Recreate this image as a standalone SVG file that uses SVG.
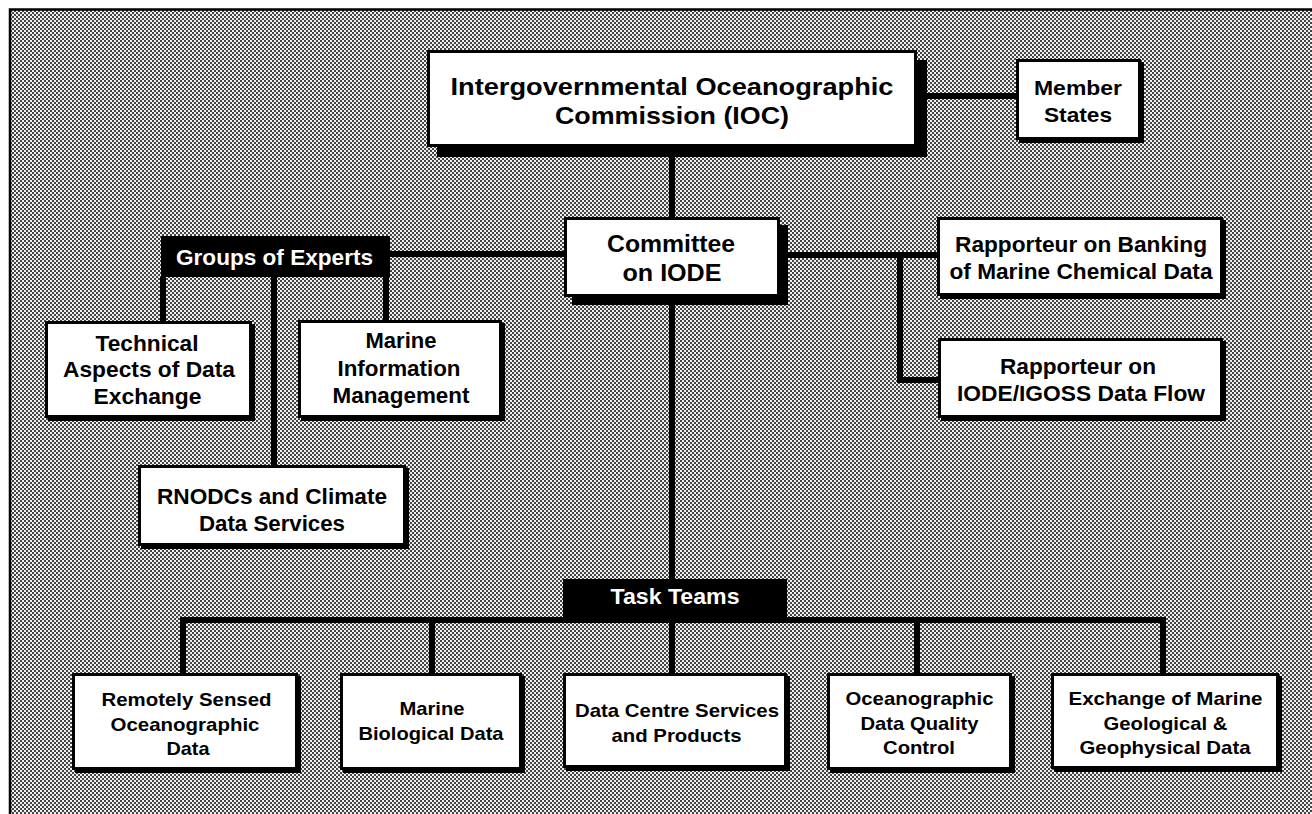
<svg xmlns="http://www.w3.org/2000/svg" width="1312" height="814" viewBox="0 0 1312 814">
  <defs>
    <!-- halftone screen used for the panel background -->
    <pattern id="screen" x="0" y="0" width="4" height="4" patternUnits="userSpaceOnUse">
      <rect width="4" height="4" fill="#efefef"/>
      <rect x="0" y="0" width="2" height="2" fill="#454545"/>
      <rect x="2" y="2" width="2" height="2" fill="#454545"/>
    </pattern>
  </defs>
  <style>
    .box { fill: #fff; stroke: #000; stroke-width: 3; }
    .shadow { fill: #000; }
    .bar { fill: #000; }
    .wire { fill: none; stroke: #000; stroke-width: 6; stroke-linejoin: miter; }
    .t { font-family: "Liberation Sans", Arial, Helvetica, sans-serif; font-weight: bold; fill: #000; text-anchor: middle; }
    .w { fill: #fff; }
    .big { font-size: 24px; }
    .mid { font-size: 22px; }
    .sm { font-size: 19px; }
  </style>

  <!-- page and framed panel -->
  <rect x="0" y="0" width="1312" height="814" fill="#fff"/>
  <rect x="10" y="9.5" width="1310" height="820" fill="url(#screen)" stroke="#000" stroke-width="2.5"/>

  <!-- connectors -->
  <g id="connectors">
    <path class="wire" d="M917 96 H1016"/>
    <path class="wire" d="M672 147 V217"/>
    <path class="wire" d="M390 254 H564" stroke-width="5"/>
    <path class="wire" d="M163 277 V321"/>
    <path class="wire" d="M274 277 V465"/>
    <path class="wire" d="M386 277 V320"/>
    <path class="wire" d="M780 255 H937" stroke-width="5"/>
    <path class="wire" d="M900 255 V380 H938"/>
    <path class="wire" d="M672 297 V579"/>
    <path class="wire" d="M183 673 V620 H1163 V673"/>
    <path class="wire" d="M432 620 V673"/>
    <path class="wire" d="M672 617 V673"/>
    <path class="wire" d="M917 620 V673"/>
  </g>

  <g id="ioc">
    <rect class="shadow" x="437" y="60" width="490" height="97"/>
    <rect class="box" x="428.5" y="51.5" width="487" height="94"/>
    <text class="t big" x="672" y="95" textLength="443" lengthAdjust="spacingAndGlyphs">Intergovernmental Oceanographic</text>
    <text class="t big" x="672" y="123.5" textLength="234" lengthAdjust="spacingAndGlyphs">Commission (IOC)</text>
  </g>

  <g id="member-states">
    <rect class="shadow" x="1019" y="62" width="125" height="81"/>
    <rect class="box" x="1017.5" y="60.5" width="122" height="78"/>
    <text class="t" font-size="21" x="1078" y="95" textLength="88" lengthAdjust="spacingAndGlyphs">Member</text>
    <text class="t" font-size="21" x="1078" y="122" textLength="68" lengthAdjust="spacingAndGlyphs">States</text>
  </g>

  <g id="committee">
    <rect class="shadow" x="572" y="225" width="216" height="80"/>
    <rect class="box" x="565.5" y="218.5" width="213" height="77"/>
    <text class="t" font-size="23" x="671" y="252" textLength="128" lengthAdjust="spacingAndGlyphs">Committee</text>
    <text class="t" font-size="23" x="672" y="281" textLength="99" lengthAdjust="spacingAndGlyphs">on IODE</text>
  </g>

  <g id="groups-of-experts">
    <rect class="bar" x="161" y="236" width="229" height="41"/>
    <text class="t w mid" x="274.5" y="265" textLength="197" lengthAdjust="spacingAndGlyphs">Groups of Experts</text>
  </g>

  <g id="technical-aspects">
    <rect class="shadow" x="48" y="324" width="207" height="97"/>
    <rect class="box" x="46.5" y="322.5" width="204" height="94"/>
    <text class="t mid" x="147" y="351" textLength="103" lengthAdjust="spacingAndGlyphs">Technical</text>
    <text class="t mid" x="149" y="377" textLength="172" lengthAdjust="spacingAndGlyphs">Aspects of Data</text>
    <text class="t mid" x="147.5" y="404" textLength="108" lengthAdjust="spacingAndGlyphs">Exchange</text>
  </g>

  <g id="marine-information">
    <rect class="shadow" x="301" y="323" width="204" height="98"/>
    <rect class="box" x="299.5" y="321.5" width="201" height="95"/>
    <text class="t mid" x="401" y="348" textLength="71" lengthAdjust="spacingAndGlyphs">Marine</text>
    <text class="t mid" x="399" y="376" textLength="123" lengthAdjust="spacingAndGlyphs">Information</text>
    <text class="t mid" x="401" y="403" textLength="137" lengthAdjust="spacingAndGlyphs">Management</text>
  </g>

  <g id="rnodcs">
    <rect class="shadow" x="141" y="468" width="268" height="81"/>
    <rect class="box" x="139.5" y="466.5" width="265" height="78"/>
    <text class="t mid" x="272" y="504" textLength="230" lengthAdjust="spacingAndGlyphs">RNODCs and Climate</text>
    <text class="t mid" x="272" y="531" textLength="146" lengthAdjust="spacingAndGlyphs">Data Services</text>
  </g>

  <g id="rapporteur-chemical">
    <rect class="shadow" x="940" y="220" width="286" height="79"/>
    <rect class="box" x="938.5" y="218.5" width="283" height="76"/>
    <text class="t mid" x="1081" y="252" textLength="252" lengthAdjust="spacingAndGlyphs">Rapporteur on Banking</text>
    <text class="t mid" x="1081" y="278.5" textLength="263" lengthAdjust="spacingAndGlyphs">of Marine Chemical Data</text>
  </g>

  <g id="rapporteur-igoss">
    <rect class="shadow" x="941" y="341" width="285" height="80"/>
    <rect class="box" x="939.5" y="339.5" width="282" height="77"/>
    <text class="t mid" x="1078" y="373.5" textLength="156" lengthAdjust="spacingAndGlyphs">Rapporteur on</text>
    <text class="t mid" x="1081" y="401" textLength="248" lengthAdjust="spacingAndGlyphs">IODE/IGOSS Data Flow</text>
  </g>

  <g id="task-teams">
    <rect class="bar" x="563" y="579" width="224" height="40"/>
    <text class="t w mid" x="675" y="604" textLength="129" lengthAdjust="spacingAndGlyphs">Task Teams</text>
  </g>

  <g id="remotely-sensed">
    <rect class="shadow" x="75" y="676" width="226" height="97"/>
    <rect class="box" x="73.5" y="674.5" width="223" height="94"/>
    <text class="t sm" x="186.5" y="705.5" textLength="170" lengthAdjust="spacingAndGlyphs">Remotely Sensed</text>
    <text class="t sm" x="185" y="730.5" textLength="149" lengthAdjust="spacingAndGlyphs">Oceanographic</text>
    <text class="t sm" x="188" y="755" textLength="43" lengthAdjust="spacingAndGlyphs">Data</text>
  </g>

  <g id="marine-biological">
    <rect class="shadow" x="343" y="676" width="182" height="97"/>
    <rect class="box" x="341.5" y="674.5" width="179" height="94"/>
    <text class="t sm" x="432" y="715" textLength="65" lengthAdjust="spacingAndGlyphs">Marine</text>
    <text class="t sm" x="431" y="740" textLength="145" lengthAdjust="spacingAndGlyphs">Biological Data</text>
  </g>

  <g id="data-centre">
    <rect class="shadow" x="566" y="676" width="224" height="95"/>
    <rect class="box" x="564.5" y="674.5" width="221" height="92"/>
    <text class="t sm" x="677" y="716.5" textLength="204" lengthAdjust="spacingAndGlyphs">Data Centre Services</text>
    <text class="t sm" x="676.5" y="741.5" textLength="130" lengthAdjust="spacingAndGlyphs">and Products</text>
  </g>

  <g id="quality-control">
    <rect class="shadow" x="830" y="676" width="185" height="97"/>
    <rect class="box" x="828.5" y="674.5" width="182" height="94"/>
    <text class="t sm" x="919.5" y="705" textLength="148" lengthAdjust="spacingAndGlyphs">Oceanographic</text>
    <text class="t sm" x="919.5" y="730" textLength="118" lengthAdjust="spacingAndGlyphs">Data Quality</text>
    <text class="t sm" x="919" y="753.5" textLength="72" lengthAdjust="spacingAndGlyphs">Control</text>
  </g>

  <g id="marine-geology">
    <rect class="shadow" x="1054" y="676" width="228" height="96"/>
    <rect class="box" x="1052.5" y="674.5" width="225" height="93"/>
    <text class="t sm" x="1165.5" y="705" textLength="194" lengthAdjust="spacingAndGlyphs">Exchange of Marine</text>
    <text class="t sm" x="1165.5" y="730" textLength="124" lengthAdjust="spacingAndGlyphs">Geological &amp;</text>
    <text class="t sm" x="1165" y="753.5" textLength="171" lengthAdjust="spacingAndGlyphs">Geophysical Data</text>
  </g>
</svg>
